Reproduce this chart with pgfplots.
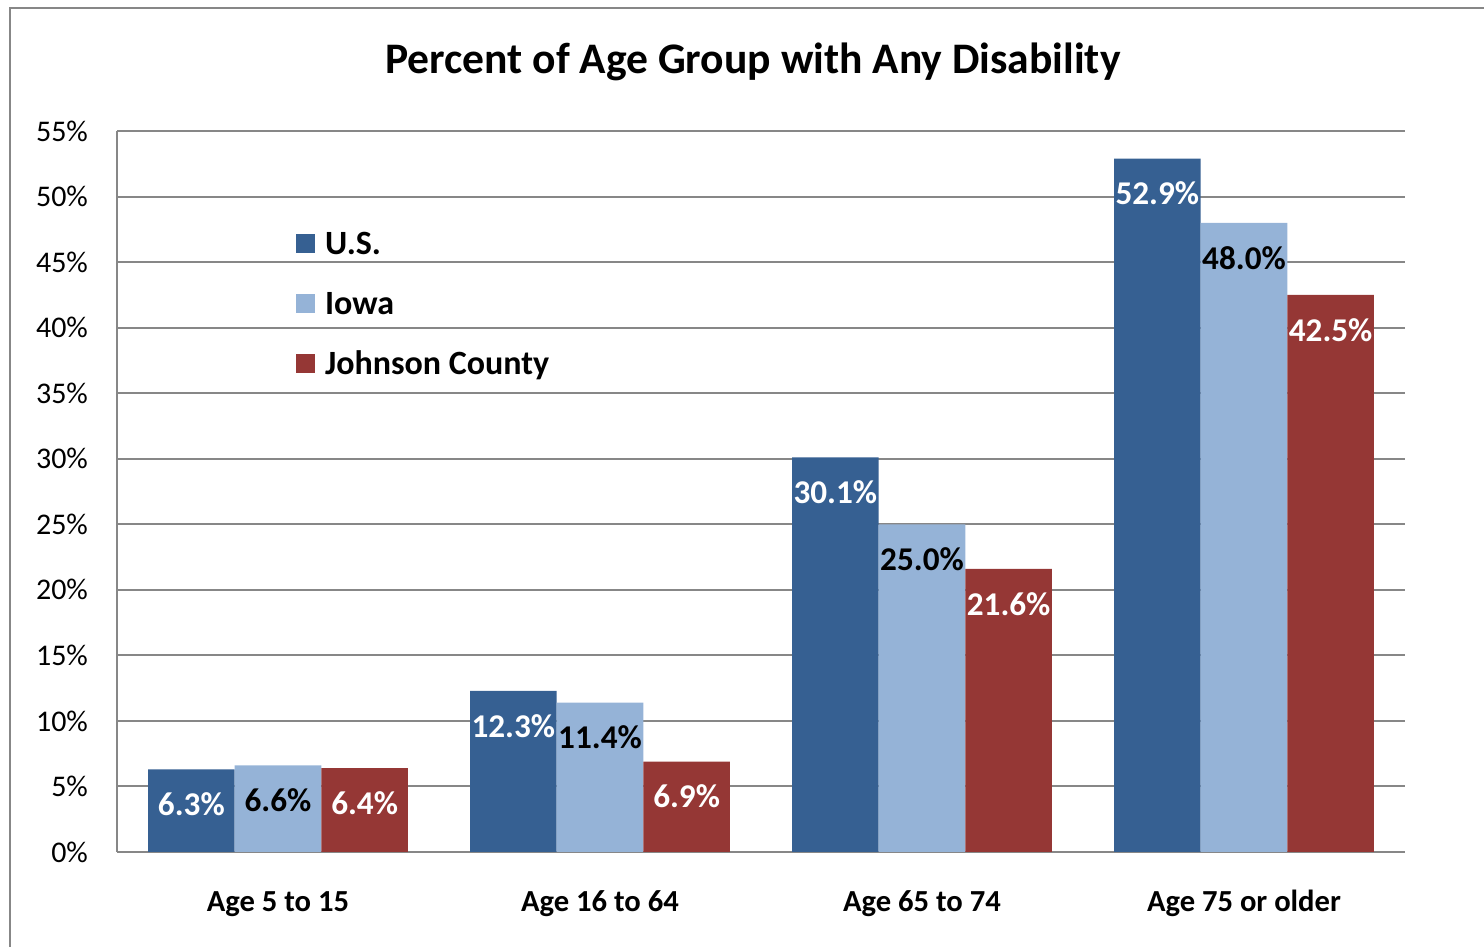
\documentclass[border=0pt]{standalone}
\usepackage{fontspec}
\setmainfont{Carlito}
\usepackage{pgfplots}
\pgfplotsset{compat=1.18}

\definecolor{usblue}{HTML}{366092}
\definecolor{iowablue}{HTML}{95B3D7}
\definecolor{jcred}{HTML}{953735}
\definecolor{gridgray}{HTML}{878787}

\begin{document}
\begin{tikzpicture}
% 1 px of the reference = 0.5pt
\useasboundingbox (0,0) rectangle (742pt,473.5pt);
\draw[gridgray, line width=1pt] (5pt,469.5pt) rectangle (760pt,-10pt);
\node[font=\bfseries\fontsize{21.8}{26}\selectfont] at (376.5pt,442.5pt) {Percent of Age Group with Any Disability};

\begin{axis}[
    at={(58.5pt,47.5pt)}, anchor=south west,
    scale only axis,
    width=644pt, height=360.5pt,
    ybar=0pt, bar width=43.33pt,
    xmin=-0.5, xmax=3.5, ymin=0, ymax=55,
    enlarge x limits=false,
    xtick={0,1,2,3},
    xticklabels={Age 5 to 15, Age 16 to 64, Age 65 to 74, Age 75 or older},
    ytick={0,5,...,55},
    yticklabel={\pgfmathprintnumber{\tick}\%},
    /pgf/number format/assume math mode=true,
    major tick length=0pt,
    axis x line*=bottom, axis y line*=left,
    axis line style={gridgray, line width=1pt},
    ymajorgrids,
    grid style={gridgray, line width=1pt},
    xticklabel style={font=\bfseries\fontsize{15.3}{18}\selectfont, anchor=base, yshift=-30pt},
    yticklabel style={font=\fontsize{15}{18}\selectfont, anchor=east, xshift=-11pt},
    nodes near coords={\pgfmathprintnumber[fixed,fixed zerofill,precision=1]{\pgfplotspointmeta}\%},
    every node near coord/.append style={font=\bfseries\fontsize{16.6}{19}\selectfont, anchor=center, yshift=-17.5pt},
    legend cell align=left,
    legend image code/.code={\fill[#1] (0pt,-4.75pt) rectangle (9.5pt,4.75pt);},
    legend style={draw=none, fill=none, inner sep=0pt, outer sep=0pt,
        row sep=19.2pt, column sep=5pt,
        nodes={inner sep=0pt, text height=10.8pt, text depth=0pt,
               font=\bfseries\fontsize{17}{20}\selectfont},
        at={(0.139,0.8585)}, anchor=north west},
]
\addplot+[fill=usblue, draw=none, every node near coord/.append style={text=white}]
    coordinates {(0,6.3) (1,12.3) (2,30.1) (3,52.9)};
\addplot+[fill=iowablue, draw=none, every node near coord/.append style={text=black}]
    coordinates {(0,6.6) (1,11.4) (2,25.0) (3,48.0)};
\addplot+[fill=jcred, draw=none, every node near coord/.append style={text=white}]
    coordinates {(0,6.4) (1,6.9) (2,21.6) (3,42.5)};
\legend{U.S., Iowa, Johnson County}
\end{axis}
\end{tikzpicture}
\end{document}
